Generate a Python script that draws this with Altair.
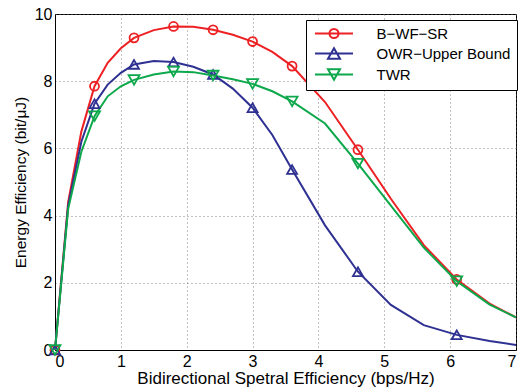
import altair as alt
import pandas as pd

x_vals = [0, 0.2, 0.4, 0.6, 0.8, 1.0, 1.2, 1.5, 1.8, 2.1, 2.4, 2.7, 3.0, 3.3, 3.6, 4.1, 4.6, 5.1, 5.6, 6.1, 6.6, 7.0]
bwfsr = [0, 4.4, 6.5, 7.85, 8.55, 8.98, 9.29, 9.52, 9.63, 9.62, 9.53, 9.38, 9.18, 8.87, 8.45, 7.38, 5.96, 4.5, 3.12, 2.1, 1.38, 0.97]
owr = [0, 4.3, 6.2, 7.33, 7.9, 8.25, 8.5, 8.6, 8.57, 8.43, 8.2, 7.78, 7.21, 6.4, 5.37, 3.71, 2.33, 1.34, 0.74, 0.45, 0.27, 0.15]
twr = [0, 4.2, 5.9, 6.96, 7.55, 7.85, 8.04, 8.2, 8.29, 8.27, 8.17, 8.06, 7.92, 7.7, 7.4, 6.74, 5.55, 4.3, 3.05, 2.05, 1.35, 0.97]
marker_x = [0, 0.6, 1.2, 1.8, 2.4, 3.0, 3.6, 4.6, 6.1]

series_names = ["B\u2212WF\u2212SR", "OWR\u2212Upper Bound", "TWR"]
colors = ["#ED2024", "#2E3192", "#0DA84B"]
shapes = ["circle", "triangle-up", "triangle-down"]
legend_paths = [
    "M-4.222,0L4.222,0M-1,0A1,1 0 1,1 1,0A1,1 0 1,1 -1,0",
    "M-4.222,0L4.222,0M0,-1.155L-1.333,1.155L1.333,1.155Z",
    "M-4.222,0L4.222,0M0,1.155L-1.333,-1.155L1.333,-1.155Z",
]

rows = []
for name, vals in zip(series_names, [bwfsr, owr, twr]):
    for i, (xv, yv) in enumerate(zip(x_vals, vals)):
        rows.append({"x": xv, "y": yv, "series": name, "order": i})
df = pd.DataFrame(rows)

FONT = "Liberation Sans"
axis_common = dict(labelFont=FONT, titleFont=FONT, labelFontSize=16,
                   labelColor="black", titleColor="black", titleFontWeight="normal",
                   domainColor="black", domainWidth=1, ticks=False,
                   grid=True, gridColor="#666666", gridDash=[1, 3], gridWidth=1, gridOpacity=0.8)

xenc = alt.X("x:Q", scale=alt.Scale(domain=[0, 7], nice=False),
             axis=alt.Axis(title="Bidirectional Spetral Efficiency (bps/Hz)", values=list(range(0, 8)),
                           labelPadding=3, titlePadding=1, titleFontSize=17, **axis_common))
yenc = alt.Y("y:Q", scale=alt.Scale(domain=[0, 10], nice=False),
             axis=alt.Axis(title="Energy Efficiency (bit/\u03bcJ)", values=list(range(0, 11, 2)),
                           labelPadding=3, titlePadding=6, titleFontSize=15.5, **axis_common))

base = alt.Chart(df)

lines = base.mark_line(strokeWidth=2, interpolate="linear").encode(
    x=xenc, y=yenc,
    color=alt.Color("series:N", scale=alt.Scale(domain=series_names, range=colors), legend=None),
    order="order:Q",
)

points = base.transform_filter(
    alt.FieldOneOfPredicate(field="x", oneOf=marker_x)
).mark_point(filled=False, strokeWidth=1.8, opacity=1).encode(
    x=xenc, y=yenc,
    color=alt.Color("series:N", scale=alt.Scale(domain=series_names, range=colors), legend=None),
    shape=alt.Shape("series:N", scale=alt.Scale(domain=series_names, range=shapes), legend=None),
    size=alt.Size("series:N", scale=alt.Scale(domain=series_names, range=[80, 120, 120]), legend=None),
)

leg = dict(title=None, orient="none", legendX=251, legendY=6,
           symbolSize=81, symbolOffset=14.5, labelOffset=35,
           symbolStrokeWidth=2, labelFont=FONT, labelFontSize=15,
           labelColor="black", strokeColor="black", fillColor="white",
           padding=6, rowPadding=2, labelLimit=300)

legend_layer = base.transform_filter("false").mark_point(filled=False, strokeWidth=2, opacity=1).encode(
    x=xenc, y=yenc,
    color=alt.Color("series:N", scale=alt.Scale(domain=series_names, range=colors),
                    legend=alt.Legend(**leg)),
    shape=alt.Shape("series:N", scale=alt.Scale(domain=series_names, range=legend_paths),
                    legend=alt.Legend(**leg)),
)

chart = alt.layer(lines, points, legend_layer).resolve_scale(
    color="independent", shape="independent", size="independent"
).properties(
    width=461, height=336,
    autosize=alt.AutoSizeParams(type="none"),
    padding={"left": 55, "top": 14, "right": 3, "bottom": 42},
    background="white",
).configure_view(
    stroke="black", strokeWidth=1
)

chart.save("out.html", embed_options={"renderer": "svg", "actions": False})
